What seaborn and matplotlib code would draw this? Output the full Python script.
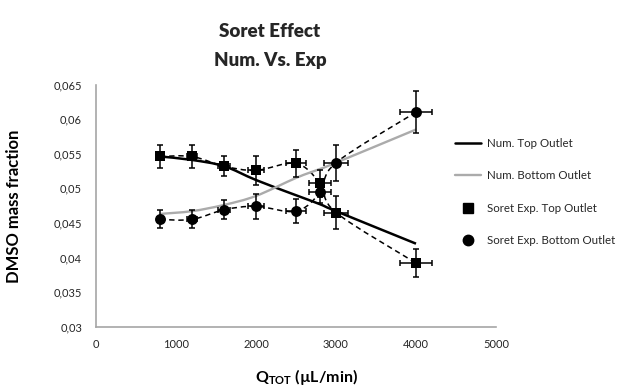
import numpy as np
import matplotlib
matplotlib.use("Agg")
import matplotlib.pyplot as plt
from matplotlib.path import Path
from matplotlib.patches import PathPatch
from matplotlib.lines import Line2D
from matplotlib.ticker import MultipleLocator, FuncFormatter
import seaborn as sns

# Total flow rate (µL/min)
q_flow = [800, 1200, 1600, 2000, 2500, 2800, 3000, 4000]
q_err = [40, 60, 80, 100, 125, 140, 150, 200]

# Numerical DMSO mass fraction at the two outlets
num_top = [0.0546, 0.0541, 0.0532, 0.0512, 0.0490, 0.0477, 0.0467, 0.0420]
num_bottom = [0.0463, 0.0467, 0.0476, 0.0489, 0.0515, 0.0528, 0.0537, 0.0585]

# Experimental (Soret) DMSO mass fraction with uncertainties
exp_top = [0.0546, 0.0546, 0.0532, 0.0526, 0.0536, 0.0507, 0.0465, 0.0392]
exp_top_err = [0.0016, 0.0016, 0.0014, 0.0021, 0.0020, 0.0019, 0.0024, 0.0020]
exp_bottom = [0.0455, 0.0455, 0.0469, 0.0474, 0.0467, 0.0494, 0.0537, 0.0610]
exp_bottom_err = [0.0013, 0.0013, 0.0014, 0.0018, 0.0017, 0.0015, 0.0026, 0.0030]

legend_labels = ["Num. Top Outlet", "Num. Bottom Outlet",
                 "Soret Exp. Top Outlet", "Soret Exp. Bottom Outlet"]

sns.set_style("white")
FONT = ["Lato", "DejaVu Sans"]
plt.rcParams["font.family"] = FONT
plt.rcParams["mathtext.fontset"] = "custom"
plt.rcParams["mathtext.rm"] = "Lato"
plt.rcParams["mathtext.bf"] = "Lato:bold"

TEXT = "#262626"
SPINE = "#a6a6a6"
GREY_LINE = "#ababab"


def smooth_path(x, y):
    """Smooth curve through the points (Catmull-Rom as cubic Bezier)."""
    pts = np.column_stack([x, y]).astype(float)
    n = len(pts)
    verts = [pts[0]]
    codes = [Path.MOVETO]
    for i in range(n - 1):
        p0 = pts[i - 1] if i > 0 else pts[i]
        p1 = pts[i]
        p2 = pts[i + 1]
        p3 = pts[i + 2] if i + 2 < n else pts[i + 1]
        c1 = p1 + (p2 - p0) / 6.0
        c2 = p2 - (p3 - p1) / 6.0
        verts += [c1, c2, p2]
        codes += [Path.CURVE4] * 3
    return Path(verts, codes)


fig = plt.figure(figsize=(6.21, 3.87), dpi=100)
ax = fig.add_axes([0.1546, 0.1558, 0.6441, 0.6258])

# Numerical curves
ax.add_patch(PathPatch(smooth_path(q_flow, num_top), facecolor="none",
                       edgecolor="black", lw=1.8, zorder=3))
ax.add_patch(PathPatch(smooth_path(q_flow, num_bottom), facecolor="none",
                       edgecolor=GREY_LINE, lw=1.7, zorder=3))

# Experimental dashed connecting curves
for yy in (exp_top, exp_bottom):
    ax.add_patch(PathPatch(smooth_path(q_flow, yy), facecolor="none",
                           edgecolor="black", lw=1.1, linestyle=(0, (3.5, 2.5)),
                           zorder=2))

# Error bars
for yy, ee in ((exp_top, exp_top_err), (exp_bottom, exp_bottom_err)):
    ax.errorbar(q_flow, yy, yerr=ee, xerr=q_err, fmt="none",
                ecolor="black", elinewidth=1.1, capsize=2.4, capthick=1.1,
                zorder=4)

# Experimental markers
sns.scatterplot(x=q_flow, y=exp_top, marker="s", s=55, color="black",
                edgecolor="black", linewidth=0, ax=ax, zorder=5, legend=False)
sns.scatterplot(x=q_flow, y=exp_bottom, marker="o", s=62, color="black",
                edgecolor="black", linewidth=0, ax=ax, zorder=5, legend=False)

ax.set_xlim(0, 5000)
ax.set_ylim(0.03, 0.065)
ax.xaxis.set_major_locator(MultipleLocator(1000))
ax.yaxis.set_major_locator(MultipleLocator(0.005))
ax.yaxis.set_major_formatter(FuncFormatter(lambda v, p: f"{v:g}".replace(".", ",")))
ax.xaxis.set_major_formatter(FuncFormatter(lambda v, p: f"{v:.0f}"))
ax.tick_params(length=0, labelsize=8, colors=TEXT)
ax.tick_params(axis="y", pad=10)
ax.tick_params(axis="x", pad=9)

for side in ("top", "right"):
    ax.spines[side].set_visible(False)
for side in ("left", "bottom"):
    ax.spines[side].set_color(SPINE)
    ax.spines[side].set_linewidth(1.2)

fig.text(14 / 621, 1 - 206 / 387, "DMSO mass fraction", rotation=90,
         ha="center", va="center", fontsize=12, fontweight="bold",
         color="black")
fig.text(306 / 621, 1 - 377 / 387, r"$\mathbf{Q}_{\mathbf{TOT}}$ (µL/min)",
         ha="center", va="center", fontsize=11.5, fontweight="bold",
         color="black")

fig.suptitle("Soret Effect\nNum. Vs. Exp", x=270 / 621, y=1 - 46 / 387,
             va="center", ha="center", fontsize=13.5, fontweight="heavy",
             linespacing=1.9)

handles = [
    Line2D([], [], color="black", lw=1.8),
    Line2D([], [], color=GREY_LINE, lw=1.7),
    Line2D([], [], color="black", lw=0, marker="s", markersize=7),
    Line2D([], [], color="black", lw=0, marker="o", markersize=7.5),
]
fig.legend(handles, legend_labels, loc="center left",
           bbox_to_anchor=(455 / 621, 1 - 192 / 387), frameon=False,
           fontsize=8.3, handlelength=2.25, handletextpad=0.55,
           labelspacing=1.85, borderpad=0, borderaxespad=0,
           labelcolor=TEXT)

fig.savefig("out.png", dpi=100)
